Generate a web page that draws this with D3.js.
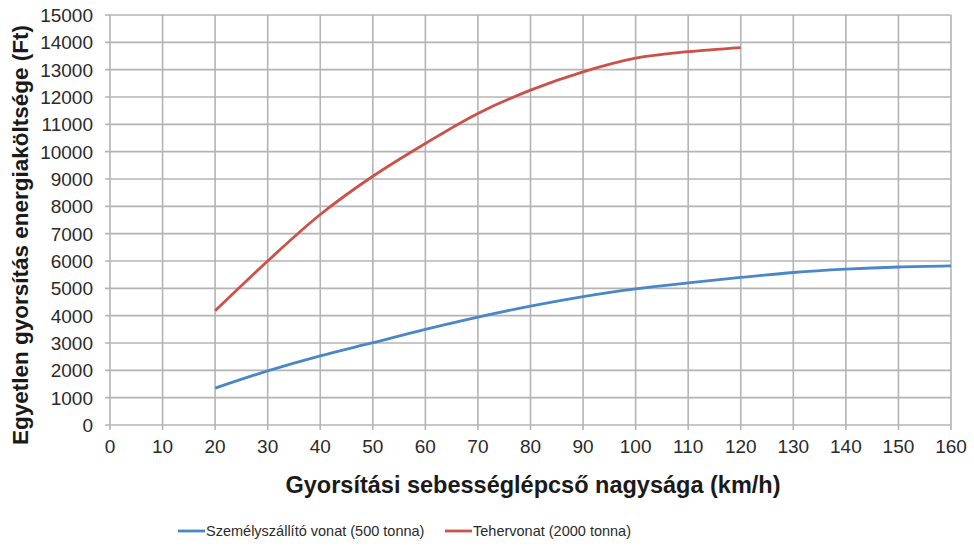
<!DOCTYPE html>
<html>
<head>
<meta charset="utf-8">
<script src="https://cdn.jsdelivr.net/npm/d3@7"></script>
<style>
  body { margin: 0; background: #fff; }
  svg { font-family: "Liberation Sans", Arial, sans-serif; }
</style>
</head>
<body>
<div class="chart"></div>
<script>
var speeds = [20, 30, 40, 50, 60, 70, 80, 90, 100, 110, 120, 130, 140, 150, 160];
var passenger = [1350, 1980, 2530, 3010, 3500, 3950, 4350, 4700, 4980, 5200, 5400, 5580, 5700, 5780, 5820];
var freightSpeeds = [20, 30, 40, 50, 60, 70, 80, 90, 100, 110, 120];
var freight = [4180, 6000, 7700, 9100, 10300, 11400, 12250, 12920, 13420, 13660, 13810];
var seriesNames = ["Személyszállító vonat (500 tonna)", "Tehervonat (2000 tonna)"];
var xTicks = d3.range(0, 161, 10);
var yTicks = d3.range(0, 15001, 1000);

var width = 974, height = 552;
var margin = { top: 15, right: 23, bottom: 127, left: 110 };
var w = width - margin.left - margin.right;
var h = height - margin.top - margin.bottom;

var svg = d3.select(".chart").append("svg")
  .attr("width", width)
  .attr("height", height);

var g = svg.append("g")
  .attr("transform", `translate(${margin.left}, ${margin.top})`);

var x = d3.scaleLinear().domain([0, 160]).range([0, w]);
var y = d3.scaleLinear().domain([0, 15000]).range([h, 0]);

// grid
var gridColor = "#b4b4b4";
g.append("g").selectAll("line").data(xTicks).join("line")
  .attr("x1", d => x(d)).attr("x2", d => x(d))
  .attr("y1", 0).attr("y2", h + 5)
  .attr("stroke", gridColor).attr("stroke-width", 1.6);
g.append("g").selectAll("line").data(yTicks).join("line")
  .attr("y1", d => y(d)).attr("y2", d => y(d))
  .attr("x1", -5).attr("x2", w)
  .attr("stroke", gridColor).attr("stroke-width", 1.6);

// tick labels
g.append("g").selectAll("text").data(yTicks).join("text")
  .attr("x", -17).attr("y", d => y(d))
  .attr("dy", "0.36em")
  .attr("text-anchor", "end")
  .attr("font-size", 19)
  .attr("fill", "#2a2a2a")
  .text(d => d);
g.append("g").selectAll("text").data(xTicks).join("text")
  .attr("x", d => x(d)).attr("y", h + 28)
  .attr("text-anchor", "middle")
  .attr("font-size", 19)
  .attr("fill", "#2a2a2a")
  .text(d => d);

// lines
var line = d3.line().curve(d3.curveCatmullRom)
  .x(d => x(d[0])).y(d => y(d[1]));
var colors = ["#4a87c9", "#cc5149"];
var series = [
  speeds.map((s, i) => [s, passenger[i]]),
  freightSpeeds.map((s, i) => [s, freight[i]])
];
g.selectAll("path.series").data(series).join("path")
  .attr("class", "series")
  .attr("d", line)
  .attr("fill", "none")
  .attr("stroke", (d, i) => colors[i])
  .attr("stroke-width", 2.8);

// axis titles
svg.append("text")
  .attr("transform", "translate(28, 235) rotate(-90)")
  .attr("text-anchor", "middle")
  .attr("font-size", 22.5)
  .attr("font-weight", "bold")
  .attr("fill", "#1a1a1a")
  .text("Egyetlen gyorsítás energiaköltsége (Ft)");
svg.append("text")
  .attr("x", 533).attr("y", 493)
  .attr("text-anchor", "middle")
  .attr("font-size", 23.5)
  .attr("font-weight", "bold")
  .attr("fill", "#1a1a1a")
  .text("Gyorsítási sebességlépcső nagysága (km/h)");

// legend
var legendX = [178, 445];
var legend = svg.append("g").selectAll("g").data(seriesNames).join("g")
  .attr("transform", (d, i) => `translate(${legendX[i]}, 531)`);
legend.append("line")
  .attr("x1", 0).attr("x2", 27)
  .attr("stroke", (d, i) => colors[i])
  .attr("stroke-width", 2.8);
legend.append("text")
  .attr("x", 28).attr("dy", "0.36em")
  .attr("font-size", 14.5)
  .attr("fill", "#2a2a2a")
  .text(d => d);
</script>
</body>
</html>
